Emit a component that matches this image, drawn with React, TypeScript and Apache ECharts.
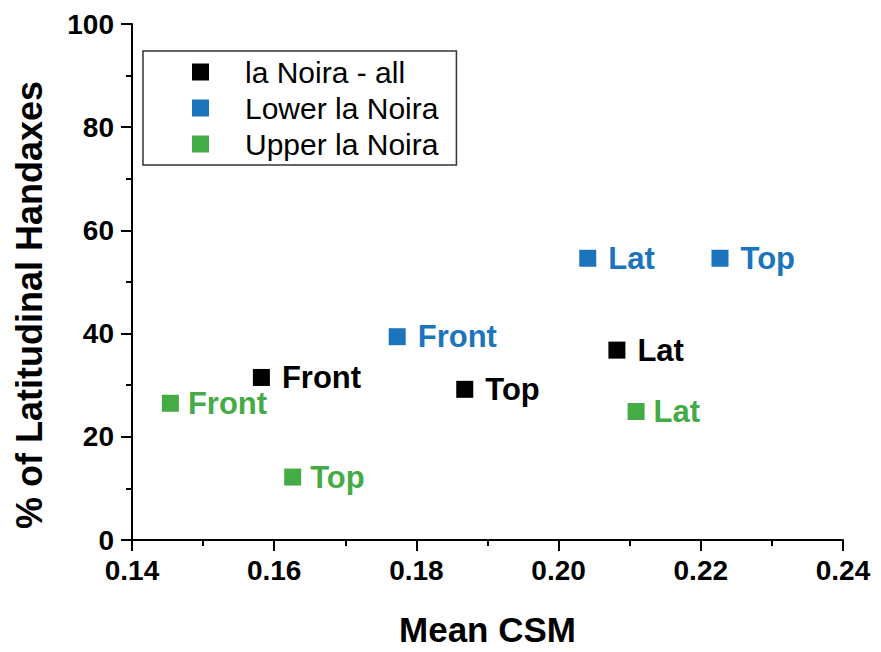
import React, { useEffect, useRef } from "react";
import * as echarts from "echarts";

const seriesNames = ["la Noira - all", "Lower la Noira", "Upper la Noira"];
const seriesColors = ["#000000", "#1C75BC", "#45AB47"];
const pointLabels = [
  ["Front", "Top", "Lat"],
  ["Front", "Lat", "Top"],
  ["Front", "Top", "Lat"],
];
const csmValues = [
  [0.1582, 0.1868, 0.2082],
  [0.1773, 0.2041, 0.2227],
  [0.1454, 0.1626, 0.2109],
];
const latPercent = [
  [31.5, 29.2, 36.8],
  [39.4, 54.6, 54.6],
  [26.5, 12.2, 24.9],
];
const xTicks = [0.14, 0.16, 0.18, 0.2, 0.22, 0.24];
const yTicks = [0, 20, 40, 60, 80, 100];

const FONT = "'Liberation Sans', Arial, sans-serif";

export default function App() {
  const ref = useRef<HTMLDivElement>(null);
  useEffect(() => {
    if (!ref.current) return;
    const chart = echarts.init(ref.current, null, { renderer: "svg" });
    const series = seriesNames.map((name, si) => ({
      name,
      type: "scatter",
      symbol: "rect",
      symbolSize: 17,
      itemStyle: { color: seriesColors[si], opacity: 1 },
      label: {
        show: true,
        position: "right",
        distance: si === 2 ? 9 : 12,
        formatter: (p: any) => pointLabels[si][p.dataIndex],
        color: seriesColors[si],
        opacity: 1,
        fontFamily: FONT,
        fontWeight: "bold",
        fontSize: 31,
      },
      emphasis: { disabled: true },
      data: csmValues[si].map((x, i) => [x, latPercent[si][i]]),
    }));
    chart.setOption({
      animation: false,
      backgroundColor: "#ffffff",
      textStyle: { fontFamily: FONT },
      grid: { left: 132, right: 38, top: 24, bottom: 105 },
      legend: {
        orient: "vertical",
        left: 143,
        top: 51,
        data: seriesNames,
        icon: "rect",
        itemWidth: 17,
        itemHeight: 17,
        itemGap: 6,
        padding: [6, 18, 6, 49],
        borderColor: "#333333",
        borderWidth: 1.5,
        itemStyle: { opacity: 1 },
        textStyle: {
          fontFamily: FONT,
          fontSize: 30,
          color: "#000",
          padding: [0, 0, 0, 31],
        },
      },
      xAxis: {
        type: "value",
        min: 0.14,
        max: 0.24,
        interval: 0.02,
        name: "Mean CSM",
        nameLocation: "middle",
        nameGap: 72,
        nameTextStyle: { fontFamily: FONT, fontSize: 35, fontWeight: "bold", color: "#000" },
        axisLine: { lineStyle: { color: "#000", width: 2 } },
        axisTick: { inside: false, length: 11, lineStyle: { color: "#000", width: 2 } },
        minorTick: { show: true, splitNumber: 2, length: 6, lineStyle: { color: "#000", width: 2 } },
        splitLine: { show: false },
        axisLabel: {
          margin: 16,
          fontFamily: FONT,
          fontSize: 28,
          fontWeight: "bold",
          color: "#000",
          formatter: (v: number) => (xTicks.some((t) => Math.abs(t - v) < 1e-9) ? v.toFixed(2) : ""),
        },
      },
      yAxis: {
        type: "value",
        min: 0,
        max: 100,
        interval: 20,
        axisLine: { show: true, lineStyle: { color: "#000", width: 2 } },
        axisTick: { show: true, inside: false, length: 11, lineStyle: { color: "#000", width: 2 } },
        minorTick: { show: true, splitNumber: 2, length: 6, lineStyle: { color: "#000", width: 2 } },
        splitLine: { show: false },
        axisLabel: {
          margin: 18,
          fontFamily: FONT,
          fontSize: 28,
          fontWeight: "bold",
          color: "#000",
          formatter: (v: number) => (yTicks.includes(v) ? String(v) : ""),
        },
      },
      graphic: [
        {
          type: "text",
          x: 29,
          y: 305,
          rotation: Math.PI / 2,
          style: {
            text: "% of Latitudinal Handaxes",
            fontFamily: FONT,
            fontSize: 36,
            fontWeight: "bold",
            fill: "#000",
            textAlign: "center",
            textVerticalAlign: "middle",
          },
        },
      ],
      series,
    });
    return () => chart.dispose();
  }, []);
  return <div ref={ref} style={{ width: 881, height: 652, position: "absolute", left: 0, top: 0 }} />;
}
